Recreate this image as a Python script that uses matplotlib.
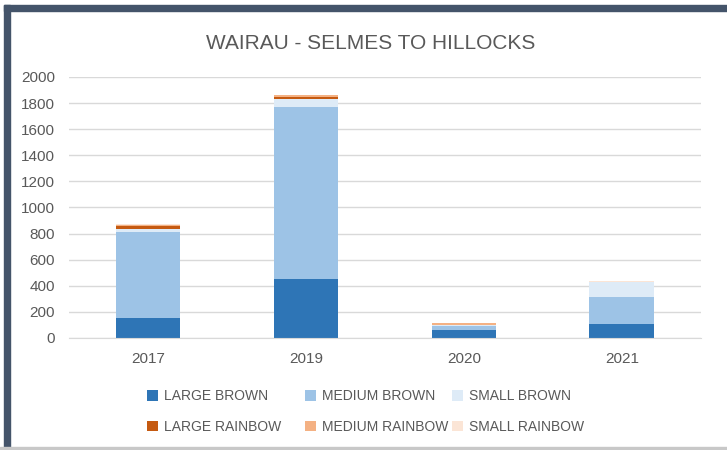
import matplotlib.pyplot as plt
import numpy as np

plt.rcParams["font.family"] = ["Liberation Sans", "DejaVu Sans"]

years = ["2017", "2019", "2020", "2021"]
large_brown = [150, 450, 60, 105]
medium_brown = [665, 1320, 30, 210]
small_brown = [20, 60, 10, 117]
large_rainbow = [20, 15, 0, 0]
medium_rainbow = [10, 15, 12, 0]
small_rainbow = [10, 5, 3, 8]

series = [
    ("LARGE BROWN", large_brown, "#2E75B6"),
    ("MEDIUM BROWN", medium_brown, "#9DC3E6"),
    ("SMALL BROWN", small_brown, "#DEEBF7"),
    ("LARGE RAINBOW", large_rainbow, "#C55A11"),
    ("MEDIUM RAINBOW", medium_rainbow, "#F4B183"),
    ("SMALL RAINBOW", small_rainbow, "#FBE5D6"),
]

text_col = "#595959"
grid_col = "#D9D9D9"

fig = plt.figure(figsize=(7.27, 4.5), dpi=100)
ax = fig.add_axes([0.095, 0.249, 0.869, 0.580])

x = np.arange(len(years))
bottom = np.zeros(len(years))
handles = []
for name, vals, col in series:
    b = ax.bar(x, vals, 0.41, bottom=bottom, color=col, label=name, zorder=2)
    handles.append(b)
    bottom += np.array(vals)

ax.set_xlim(-0.5, len(years) - 0.5)
ax.set_ylim(0, 2000)
ax.set_yticks(range(0, 2001, 200))
ax.set_xticks(x)
ax.set_xticklabels(years)
ax.tick_params(axis="both", length=0, colors=text_col, labelsize=11)
ax.tick_params(axis="y", pad=10)
ax.tick_params(axis="x", pad=10)
ax.grid(axis="y", color=grid_col, linewidth=1, zorder=0)
for s in ["top", "right", "left"]:
    ax.spines[s].set_visible(False)
ax.spines["bottom"].set_color(grid_col)

fig.text(0.51, 0.904, "WAIRAU - SELMES TO HILLOCKS", ha="center", va="center",
         fontsize=15, color=text_col)

# legend: one column per size (brown on top row, rainbow below)
col_x = [147, 305, 452]
for i, cx in enumerate(col_x):
    leg = fig.legend([handles[i], handles[i + 3]],
                     [series[i][0], series[i + 3][0]],
                     loc="center left", bbox_to_anchor=(cx / 727, 0.0856),
                     frameon=False, fontsize=10, labelcolor=text_col,
                     handlelength=0.8, handleheight=0.8, handletextpad=0.4,
                     labelspacing=1.2, borderpad=0, borderaxespad=0)

# dark frame on top and left edges, grey line at bottom
fig.patches.append(plt.Rectangle((4 / 727, 1 - 11 / 450), 1, 6 / 450,
                                 transform=fig.transFigure, color="#44546A"))
fig.patches.append(plt.Rectangle((4 / 727, 0), 6 / 727, 1 - 5 / 450,
                                 transform=fig.transFigure, color="#44546A"))
fig.patches.append(plt.Rectangle((0, 1 - 449 / 450), 1, 2 / 450,
                                 transform=fig.transFigure, color="#C8C8C8"))

fig.savefig("out.png", dpi=100)
